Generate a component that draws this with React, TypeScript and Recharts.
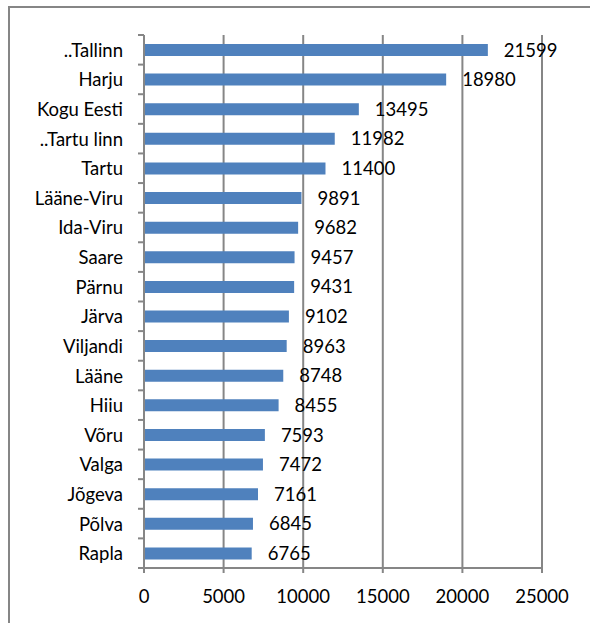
import { Bar, BarChart, CartesianGrid, LabelList, XAxis, YAxis } from "recharts";

const regions = [
  "..Tallinn",
  "Harju",
  "Kogu Eesti",
  "..Tartu linn",
  "Tartu",
  "Lääne-Viru",
  "Ida-Viru",
  "Saare",
  "Pärnu",
  "Järva",
  "Viljandi",
  "Lääne",
  "Hiiu",
  "Võru",
  "Valga",
  "Jõgeva",
  "Põlva",
  "Rapla",
];

const values = [
  21599, 18980, 13495, 11982, 11400, 9891, 9682, 9457, 9431, 9102, 8963, 8748,
  8455, 7593, 7472, 7161, 6845, 6765,
];

const xTicks = [0, 5000, 10000, 15000, 20000, 25000];

const data = regions.map((name, i) => ({ name, value: values[i] }));

const W = 590;
const H = 623;
const TOP = 35;
const XAXIS_H = 55;
const YAXIS_W = 144;
const FONT = "Lato, 'Open Sans', sans-serif";
const GRAY = "#868686";
const LINE_W = 2;
const BAND = (H - TOP - XAXIS_H) / regions.length;

const CategoryTick = (props: any) => {
  const { y, payload, index } = props;
  const last = index === regions.length - 1;
  return (
    <g>
      <line x1={YAXIS_W - 6} x2={YAXIS_W} y1={y - BAND / 2} y2={y - BAND / 2} stroke={GRAY} strokeWidth={LINE_W} />
      {last && (
        <line x1={YAXIS_W - 6} x2={YAXIS_W} y1={y + BAND / 2} y2={y + BAND / 2} stroke={GRAY} strokeWidth={LINE_W} />
      )}
      <text x={YAXIS_W - 21} y={y} textAnchor="end" dominantBaseline="central" fill="#000" fontSize={18.5} fontFamily={FONT}>
        {payload.value}
      </text>
    </g>
  );
};

export default function App() {
  return (
    <div style={{ position: "relative", width: W, height: H, overflow: "hidden", background: "#fff" }}>
      <style>{`body{margin:0}`}</style>
      <div
        style={{
          position: "absolute",
          left: 8,
          top: 6,
          width: W,
          height: H,
          borderLeft: `2px solid ${GRAY}`,
          borderTop: `2px solid ${GRAY}`,
        }}
      />
      <div style={{ position: "absolute", left: 0, top: 0 }}>
        <BarChart
          width={W}
          height={H}
          data={data}
          layout="vertical"
          margin={{ top: TOP, right: 48, bottom: 0, left: 0 }}
          barCategoryGap={0}
        >
          <XAxis
            type="number"
            domain={[0, 25000]}
            ticks={xTicks}
            height={XAXIS_H}
            axisLine={{ stroke: GRAY, strokeWidth: LINE_W }}
            tickLine={{ stroke: GRAY, strokeWidth: LINE_W }}
            tickSize={5}
            tickMargin={17}
            tick={{ fill: "#000", fontSize: 18.5, fontFamily: FONT }}
            interval={0}
          />
          <YAxis
            type="category"
            dataKey="name"
            width={YAXIS_W}
            axisLine={{ stroke: GRAY, strokeWidth: LINE_W }}
            tickLine={false}
            tick={<CategoryTick />}
            interval={0}
          />
          <Bar dataKey="value" fill="#4F81BD" barSize={12} isAnimationActive={false}>
            <LabelList
              dataKey="value"
              position="right"
              offset={16}
              fill="#000"
              fontSize={18.5}
              fontFamily={FONT}
            />
          </Bar>
          <CartesianGrid horizontal={false} stroke={GRAY} strokeWidth={LINE_W} verticalValues={xTicks} />
        </BarChart>
      </div>
    </div>
  );
}
